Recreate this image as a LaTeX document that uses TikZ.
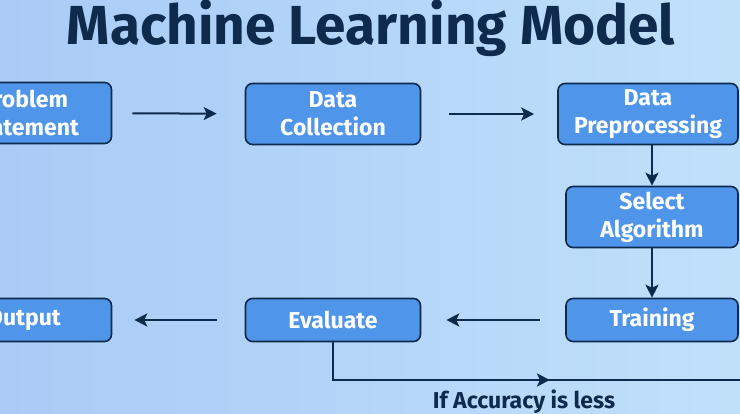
\documentclass[tikz,border=0pt]{standalone}
\usepackage{fontspec}
\setmainfont{Fira Sans}
\usetikzlibrary{arrows.meta,decorations.markings}

\definecolor{navy}{HTML}{0E2A4C}
\definecolor{boxblue}{HTML}{4F95EA}
\definecolor{bgleft}{HTML}{A9CBF6}
\definecolor{bgright}{HTML}{C0E0FA}

\begin{document}
\begin{tikzpicture}[x=1pt,y=-1pt,
  box/.style={draw=navy,line width=1.6pt,fill=boxblue,rounded corners=7pt,
    text=white,align=center,minimum width=175pt,minimum height=61pt,
    font=\fontsize{23}{28}\selectfont\bfseries},
  flow/.style={draw=navy,line width=2pt,-{Stealth[length=13pt,width=13pt,inset=3pt]}},
  gap/.style={shorten <=25pt,shorten >=25pt}]

\useasboundingbox (0,0) rectangle (740,414);
\clip (0,0) rectangle (740,414);
\shade[left color=bgleft,right color=bgright] (0,0) rectangle (740,414);

\node[anchor=base,text=navy,font=\fontsize{55}{60}\selectfont\bfseries] (title) at (371,45) {Machine Learning Model};

% top row
\node[box] (prob) at (24,113) {Problem\\Statement};
\node[box] (coll) at (333,114) {Data\\Collection};
\node[box,minimum width=180pt] (prep) at (648,114) {Data\\Preprocessing};

% right column
\node[box,minimum width=172pt] (algo) at (652,217) {Select\\Algorithm};
\node[box,minimum width=172pt,minimum height=43pt] (train) at (652,320) {Training};

% bottom row
\node[box,minimum height=43pt] (eval) at (333,320) {Evaluate};
\node[box,minimum height=43pt] (out) at (24,320) {Output};

\coordinate (loopend) at (750,380);

\draw[flow,shorten <=20pt,shorten >=28pt] (prob) -- (coll);
\draw[flow,shorten <=28pt,shorten >=23pt] (coll) -- (prep);
\draw[flow] (algo.north |- prep.south) -- (algo.north);
\draw[flow] (algo) -- (train);
\draw[flow,gap] (train) -- (eval);
\draw[flow,shorten <=28pt,shorten >=22pt] (eval) -- (out);

\draw[draw=navy,line width=2pt,
  postaction={decorate,decoration={markings,
    mark=at position 0.56 with {\arrow[navy]{Stealth[length=13pt,width=13pt,inset=3pt]}}}}]
  (eval.south) |- (loopend);
\node[text=navy,font=\fontsize{23}{26}\selectfont\bfseries,anchor=base] (cond) at (524,409) {If Accuracy is less};

\end{tikzpicture}
\end{document}
